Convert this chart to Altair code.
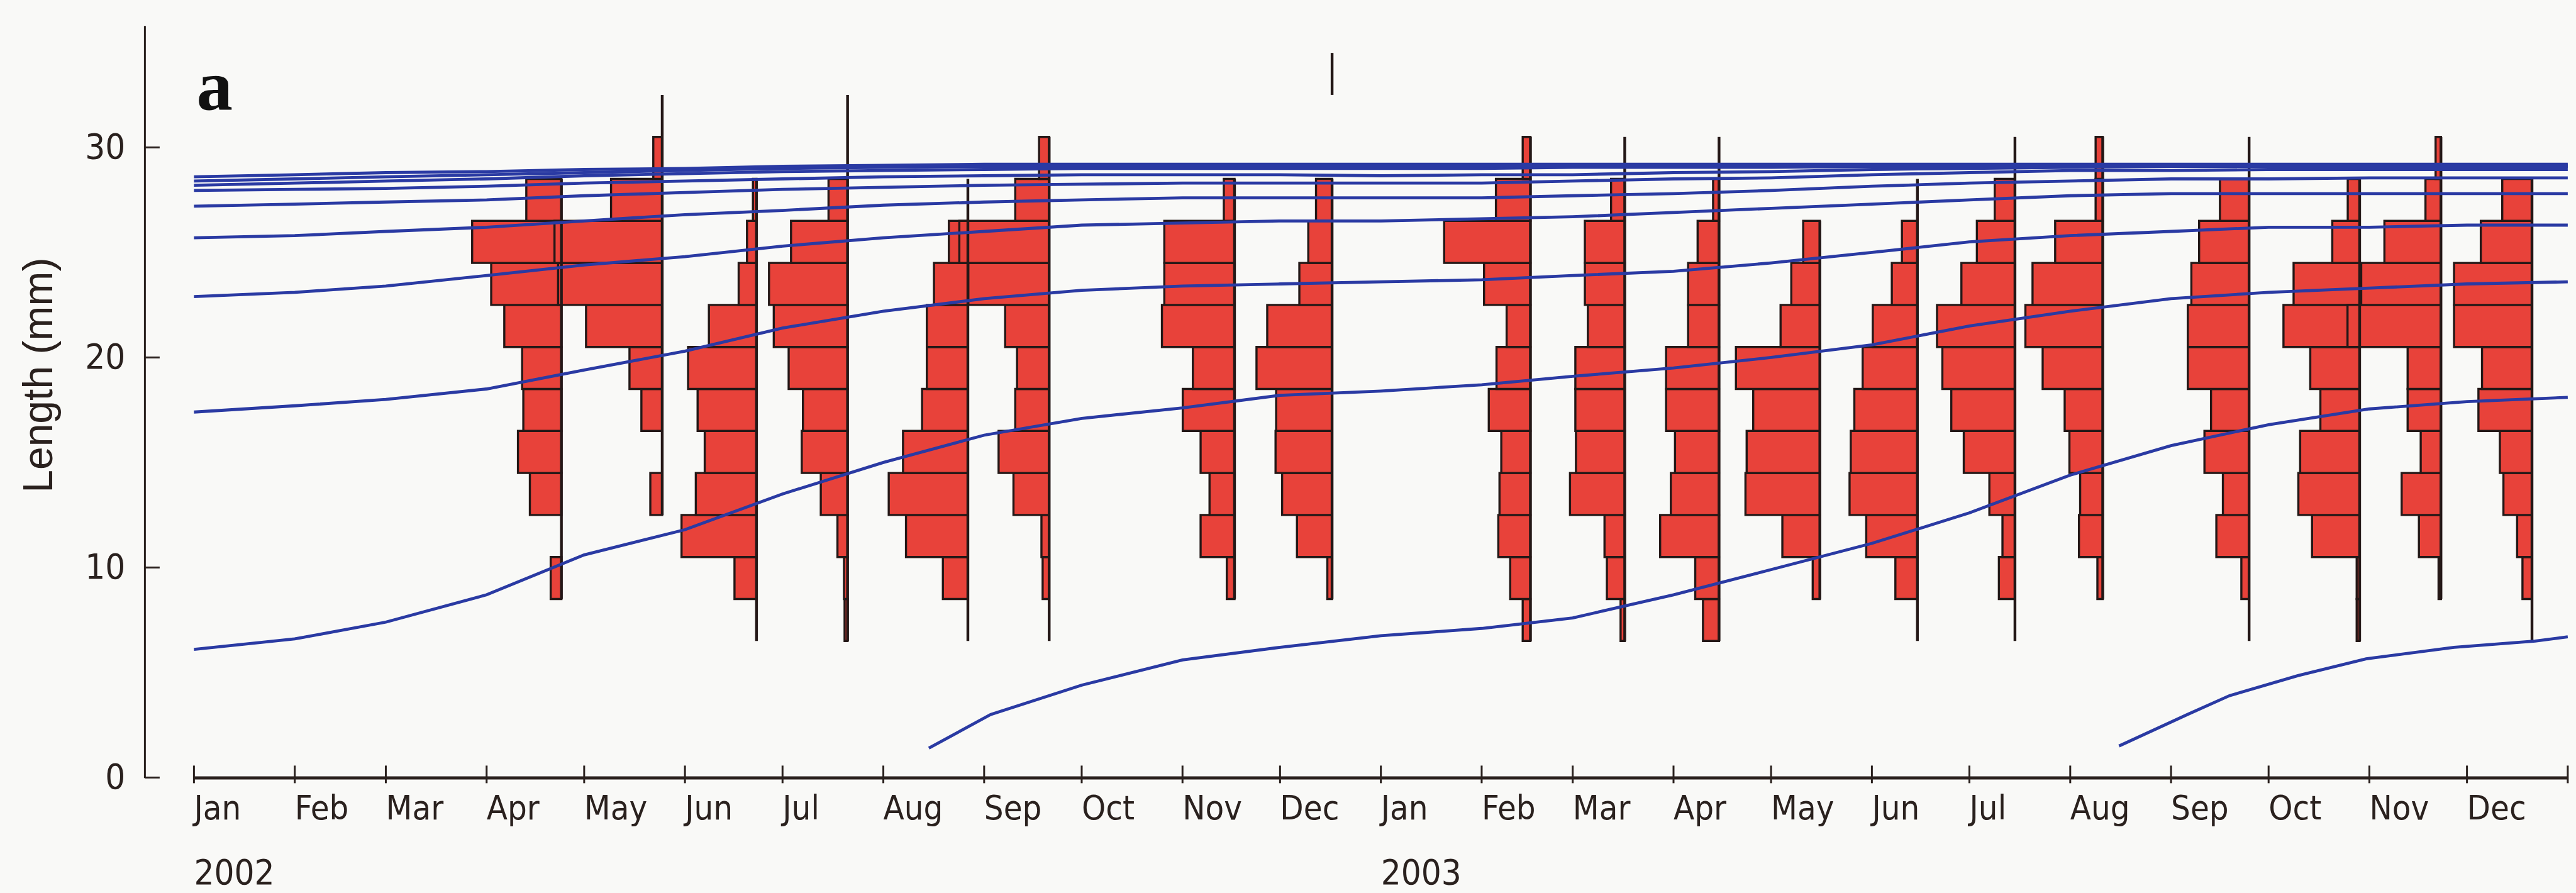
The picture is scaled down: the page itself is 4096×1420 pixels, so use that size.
import altair as alt
import pandas as pd

# ---------------------------------------------------------------------------
# Length-frequency samples (days after 1 January 2002)
# ---------------------------------------------------------------------------
sample_day = [113, 144, 173, 201, 238, 263, 320, 350, 411, 440, 469, 500,
              530, 560, 587, 632, 666, 691, 719]
# lowest and highest class limit covered by each sample's line (mm)
sample_lo = [8.5, 12.5, 6.5, 6.5, 6.5, 6.5, 8.5, 8.5, 6.5, 6.5, 6.5, 8.5,
             6.5, 6.5, 8.5, 6.5, 6.5, 8.5, 6.5]
sample_hi = [28.5, 32.5, 28.5, 32.5, 28.5, 30.5, 28.5, 28.5, 30.5, 30.5, 30.5,
             26.5, 28.5, 30.5, 30.5, 30.5, 28.5, 30.5, 28.5]

# detached piece of sample line above the December 2002 sample
extra_line_day = [350]
extra_line_lo = [32.5]
extra_line_hi = [34.5]

# 2-mm length classes, given by their lower limit
class_lower = [6.5, 8.5, 10.5, 12.5, 14.5, 16.5, 18.5, 20.5, 22.5, 24.5,
               26.5, 28.5, 30.5]
class_width = 2.0

# relative frequency per class (rows: samples, columns: class_lower)
frequency = [
    [0, 1.8, 0, 5.3, 7.3, 6.4, 6.6, 9.6, 11.8, 15.0, 5.9, 0, 0],
    [0, 0, 0, 2.0, 0, 3.5, 5.5, 12.8, 17.5, 18.1, 8.6, 1.5, 0],
    [0, 3.7, 12.6, 10.2, 8.7, 9.9, 11.5, 8.0, 3.0, 1.6, 0.6, 0, 0],
    [0.5, 0.6, 1.7, 4.5, 7.7, 7.5, 9.9, 12.4, 13.2, 9.5, 3.2, 0, 0],
    [0, 4.2, 10.4, 13.3, 10.9, 7.7, 6.9, 6.9, 5.7, 3.2, 0, 0, 0],
    [0, 1.1, 1.3, 6.0, 8.5, 5.7, 5.4, 7.4, 13.6, 15.1, 5.7, 1.7, 0],
    [0, 1.3, 5.7, 4.2, 5.7, 8.7, 7.0, 12.2, 11.8, 11.8, 1.8, 0, 0],
    [0, 0.8, 5.9, 8.4, 9.5, 9.4, 12.7, 10.9, 5.5, 4.0, 2.7, 0, 0],
    [1.3, 3.4, 5.4, 5.2, 4.9, 7.0, 5.7, 4.0, 7.8, 14.5, 5.8, 1.3, 0],
    [0.7, 3.0, 3.4, 9.2, 8.2, 8.3, 8.3, 6.2, 6.7, 6.7, 2.3, 0, 0],
    [2.7, 4.0, 9.9, 8.1, 7.4, 8.9, 8.9, 5.2, 5.2, 3.6, 1.0, 0, 0],
    [0, 1.2, 6.3, 12.5, 12.3, 11.2, 14.1, 6.6, 4.8, 2.8, 0, 0, 0],
    [0, 3.7, 8.6, 11.4, 11.2, 10.6, 9.2, 7.5, 4.3, 2.6, 0, 0, 0],
    [0, 2.7, 2.1, 4.3, 8.6, 10.7, 12.2, 13.1, 9.0, 6.4, 3.4, 0, 0],
    [0, 0.9, 4.0, 3.8, 5.6, 6.4, 10.1, 13.0, 11.8, 8.0, 1.2, 1.2, 0],
    [0, 1.3, 5.5, 4.4, 7.5, 6.4, 10.3, 10.3, 9.7, 8.4, 4.9, 0, 0],
    [0.5, 0.5, 8.0, 10.3, 10.0, 6.6, 8.3, 12.8, 11.1, 4.6, 2.0, 0, 0],
    [0, 0.4, 3.7, 6.6, 3.4, 5.6, 5.6, 15.7, 13.4, 9.5, 2.6, 0.9, 0],
    [0, 1.6, 2.5, 4.8, 5.4, 9.0, 8.4, 13.1, 13.1, 8.6, 5.0, 0, 0],
]

# ---------------------------------------------------------------------------
# Growth curves (length in mm at the start of each month)
# ---------------------------------------------------------------------------
curve_day = [0, 31, 59, 90, 120, 151, 181, 212, 243, 273, 304, 334, 365,
             396, 424, 455, 485, 516, 546, 577, 608, 638, 669, 699, 730]
cohort_a = [6.1, 6.6, 7.4, 8.7, 10.6, 11.8, 13.5, 15.0, 16.3, 17.1, 17.6, 18.2,
            18.4, 18.7, 19.1, 19.5, 20.0, 20.6, 21.5, 22.2, 22.8, 23.1, 23.3,
            23.5, 23.6]
cohort_b = [17.4, 17.7, 18.0, 18.5, 19.4, 20.3, 21.4, 22.2, 22.8, 23.2, 23.4,
            23.5, 23.6, 23.7, 23.9, 24.1, 24.5, 25.0, 25.5, 25.8, 26.0, 26.2,
            26.2, 26.3, 26.3]
cohort_c = [22.9, 23.1, 23.4, 23.9, 24.4, 24.8, 25.3, 25.7, 26.0, 26.3, 26.4,
            26.5, 26.5, 26.6, 26.7, 26.9, 27.1, 27.3, 27.5, 27.7, 27.8, 27.8,
            27.8, 27.8, 27.8]
cohort_d = [25.7, 25.8, 26.0, 26.2, 26.5, 26.8, 27.0, 27.25, 27.4, 27.5, 27.6,
            27.6, 27.6, 27.6, 27.7, 27.8, 27.95, 28.15, 28.3, 28.4, 28.5, 28.5,
            28.55, 28.55, 28.55]
cohort_e = [27.2, 27.3, 27.4, 27.5, 27.7, 27.85, 28.0, 28.1, 28.2, 28.25, 28.3,
            28.3, 28.3, 28.3, 28.4, 28.5, 28.55, 28.7, 28.8, 28.9, 28.9, 28.95,
            28.95, 28.95, 28.95]
cohort_f = [27.95, 28.0, 28.05, 28.15, 28.3, 28.4, 28.5, 28.6, 28.65, 28.7,
            28.7, 28.7, 28.65, 28.7, 28.7, 28.8, 28.85, 28.95, 29.0, 29.05,
            29.1, 29.1, 29.1, 29.1, 29.1]
cohort_g = [28.2, 28.3, 28.4, 28.5, 28.65, 28.75, 28.85, 28.9, 28.95, 29.0,
            29.0, 29.0, 29.0, 29.0, 29.05, 29.05, 29.05, 29.1, 29.1, 29.1,
            29.1, 29.1, 29.1, 29.1, 29.1]
cohort_h = [28.4, 28.5, 28.6, 28.7, 28.8, 28.9, 29.0, 29.05, 29.1, 29.1, 29.1,
            29.1, 29.1, 29.1, 29.15, 29.15, 29.15, 29.15, 29.15, 29.15, 29.15,
            29.15, 29.15, 29.15, 29.15]
cohort_i = [28.6, 28.7, 28.8, 28.85, 28.95, 29.0, 29.1, 29.15, 29.2, 29.2,
            29.2, 29.2, 29.2, 29.2, 29.2, 29.2, 29.2, 29.2, 29.2, 29.2, 29.2,
            29.2, 29.2, 29.2, 29.2]

recruit_2002_day = [226, 245, 273, 304, 334, 365, 396, 424, 455, 485, 516, 546,
                    577, 608, 638, 669, 699, 730]
recruit_2002_mm = [1.4, 3.0, 4.4, 5.6, 6.2, 6.75, 7.1, 7.6, 8.7, 9.9, 11.15,
                   12.6, 14.4, 15.8, 16.8, 17.55, 17.9, 18.1]
recruit_2003_day = [592, 613, 626, 647, 668, 695, 720, 730]
recruit_2003_mm = [1.5, 3.0, 3.9, 4.85, 5.65, 6.2, 6.5, 6.7]

# ---------------------------------------------------------------------------
# Axis text
# ---------------------------------------------------------------------------
month_day = [0, 31, 59, 90, 120, 151, 181, 212, 243, 273, 304, 334, 365, 396,
             424, 455, 485, 516, 546, 577, 608, 638, 669, 699, 730]
month_name = ["Jan", "Feb", "Mar", "Apr", "May", "Jun", "Jul", "Aug", "Sep",
              "Oct", "Nov", "Dec"] * 2 + [""]
year_day = [0, 365]
year_name = ["2002", "2003"]
length_ticks = [0, 10, 20, 30]

# ---------------------------------------------------------------------------
# Layout / style
# ---------------------------------------------------------------------------
W, H = 3774.5, 1195.7
PAD_L, PAD_T = 308.4, 40.7
AXIS_OFFSET = 78.5
FREQ_TO_DAYS = 1.83          # time-axis days drawn per frequency unit

RED = "#e8423a"
EDGE = "#241817"
BLUE = "#2a3aa3"
INK = "#2a211e"
NARROW = "Liberation Sans Narrow, Arial Narrow, DejaVu Sans Condensed, Liberation Sans, sans-serif"

xscale = alt.Scale(domain=[0, 730], nice=False, zero=False)
yscale = alt.Scale(domain=[0, 35.8], nice=False, zero=True)
xaxis = alt.Axis(labels=False, ticks=False, grid=False, title=None,
                 domainColor=INK, domainWidth=5)
yaxis = alt.Axis(values=length_ticks, offset=AXIS_OFFSET, ticks=False,
                 grid=False, title=None, labelPadding=31, labelFontSize=56,
                 labelFont=NARROW, labelColor=INK, domainColor=INK,
                 domainWidth=3)


def X(field, **kw):
    return alt.X(field, type="quantitative", scale=xscale, axis=xaxis, **kw)


def Y(field, **kw):
    return alt.Y(field, type="quantitative", scale=yscale, axis=yaxis, **kw)


# ---- tables --------------------------------------------------------------
bar_rows = []
for day, row in zip(sample_day, frequency):
    for lo, f in zip(class_lower, row):
        if f > 0:
            bar_rows.append({"day": day, "left": day - f * FREQ_TO_DAYS,
                             "lo": lo, "hi": lo + class_width, "freq": f})
bars_df = pd.DataFrame(bar_rows)

line_df = pd.DataFrame({
    "day": sample_day + extra_line_day,
    "lo": sample_lo + extra_line_lo,
    "hi": sample_hi + extra_line_hi,
})

curve_rows = []
cohorts = {"a": cohort_a, "b": cohort_b, "c": cohort_c, "d": cohort_d,
           "e": cohort_e, "f": cohort_f, "g": cohort_g, "h": cohort_h,
           "i": cohort_i}
for name, values in cohorts.items():
    for d, v in zip(curve_day, values):
        curve_rows.append({"cohort": name, "day": d, "mm": v})
for d, v in zip(recruit_2002_day, recruit_2002_mm):
    curve_rows.append({"cohort": "r2002", "day": d, "mm": v})
for d, v in zip(recruit_2003_day, recruit_2003_mm):
    curve_rows.append({"cohort": "r2003", "day": d, "mm": v})
curves_df = pd.DataFrame(curve_rows)

months_df = pd.DataFrame({"day": month_day, "name": month_name})
years_df = pd.DataFrame({"day": year_day, "name": year_name})
yticks_df = pd.DataFrame({"v": length_ticks})

# ---- layers --------------------------------------------------------------
bars = alt.Chart(bars_df).mark_rect(
    fill=RED, stroke=EDGE, strokeWidth=3.4
).encode(x=X("left"), x2="day", y=Y("lo"), y2="hi")

sample_lines = alt.Chart(line_df).mark_rule(
    color=EDGE, strokeWidth=4.4
).encode(x=X("day"), y=Y("lo"), y2="hi")

curves = alt.Chart(curves_df).mark_line(
    color=BLUE, strokeWidth=4.8
).encode(x=X("day"), y=Y("mm"), detail="cohort:N")

y_ticks = alt.Chart(yticks_df).mark_rule(color=INK, strokeWidth=3).encode(
    y=Y("v"), x=alt.value(-AXIS_OFFSET), x2=alt.value(-AXIS_OFFSET + 24)
)

month_ticks = alt.Chart(months_df).mark_rule(color=INK, strokeWidth=3).encode(
    x=X("day"), y=alt.value(H - 19), y2=alt.value(H + 9)
)

month_labels = alt.Chart(months_df).mark_text(
    align="left", baseline="top", fontSize=54, font=NARROW, color=INK
).encode(x=X("day"), y=alt.value(H + 24), text="name:N")

year_labels = alt.Chart(years_df).mark_text(
    align="left", baseline="alphabetic", fontSize=56, font=NARROW, color=INK
).encode(x=X("day"), y=alt.value(H + 170), text="name:N")

panel_letter = alt.Chart(pd.DataFrame({"t": ["a"]})).mark_text(
    align="left", baseline="alphabetic", fontSize=115,
    font="Liberation Serif", fontWeight="bold", color="#111111"
).encode(x=alt.value(4), y=alt.value(133), text="t:N")

y_title = alt.Chart(pd.DataFrame({"t": ["Length (mm)"]})).mark_text(
    angle=270, align="center", baseline="middle", fontSize=66,
    font="Liberation Sans", color=INK
).encode(x=alt.value(63 - PAD_L), y=alt.value(556), text="t:N")

chart = alt.layer(
    bars, sample_lines, curves, y_ticks, month_ticks, month_labels,
    year_labels, panel_letter, y_title
).properties(
    width=W, height=H,
    padding={"left": PAD_L, "top": PAD_T, "right": 4096 - PAD_L - W,
             "bottom": 1420 - PAD_T - H},
    autosize=alt.AutoSizeParams(type="none"),
    background="#f9f9f7",
).configure_view(stroke=None)

chart.save("out.html", embed_options={"renderer": "svg", "actions": False})
